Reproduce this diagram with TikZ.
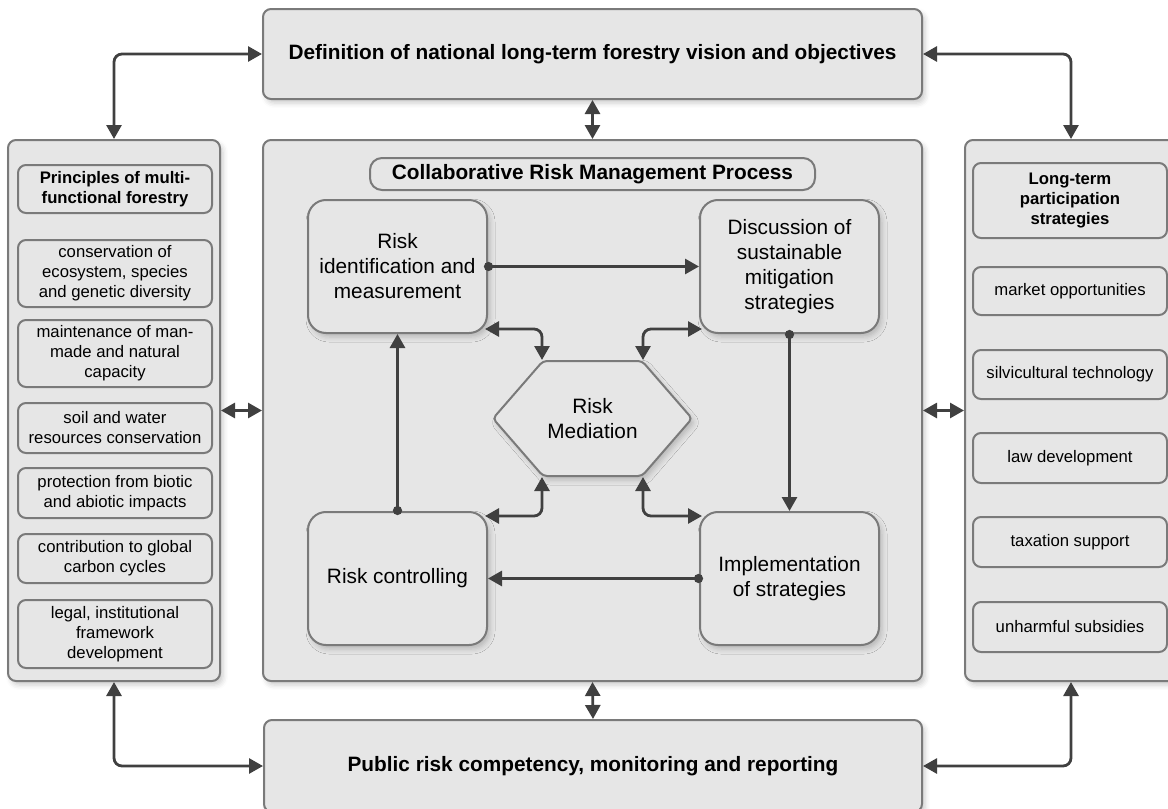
\documentclass[tikz,border=0pt]{standalone}
\usepackage{fontspec}
\setmainfont{Liberation Sans}
\usetikzlibrary{arrows.meta,shapes.symbols,shadows.blur}
\definecolor{boxfill}{HTML}{E6E6E6}
\definecolor{boxline}{HTML}{7A7A7A}
\definecolor{arrowc}{HTML}{404040}
\newcommand{\bigtxt}{\fontsize{10.4}{12.5}\selectfont}
\newcommand{\smalltxt}{\fontsize{8.35}{10}\selectfont}

\begin{document}
\begin{tikzpicture}[x=0.5pt, y=-0.5pt,
    box/.style={draw=boxline, line width=1pt, fill=boxfill, align=center, inner sep=2pt},
    shade/.style={blur shadow={shadow xshift=1.5pt, shadow yshift=-2pt, shadow blur radius=2.5pt, shadow opacity=20}},
    panel/.style={box, shade, rounded corners=4pt},
    proc/.style={box, shade, rounded corners=9pt, font=\bigtxt, minimum width=89.5pt, minimum height=66.5pt},
    item/.style={box, rounded corners=4pt, font=\smalltxt, minimum width=97pt},
    link/.style={draw=arrowc, line width=1.4pt, rounded corners=4pt},
    dbl/.style={link, {Triangle[length=7pt,width=7.5pt]}-{Triangle[length=7pt,width=7.5pt]}},
    flow/.style={link, shorten <=-2pt, {Circle[length=4.5pt]}-{Triangle[length=7pt,width=7.5pt]}}]
    \useasboundingbox (0,0) rectangle (1168,809);

    \node (def) [panel, minimum width=329.5pt, minimum height=45pt, font=\bigtxt\bfseries] at (592.5, 54) {Definition of national long-term forestry vision and objectives};
    \node (crm) [panel, minimum width=329.5pt, minimum height=270.5pt] at (592.5, 410.5) {};
    \node (pub) [panel, minimum width=329pt, minimum height=46pt, font=\bigtxt\bfseries] at (593, 766) {Public risk competency, monitoring and reporting};
    \node (prin) [panel, minimum width=106pt, minimum height=270.5pt] at (114, 410.5) {};
    \node (part) [panel, minimum width=106pt, minimum height=270.5pt] at (1071, 410.5) {};

    \node (p1) [item, font=\smalltxt\bfseries, minimum height=24pt] at (115, 189) {Principles of multi-\\functional forestry};
    \node (p2) [item, minimum height=33.5pt] at (115, 273.5) {conservation of\\ecosystem, species\\and genetic diversity};
    \node (p3) [item, minimum height=33.5pt] at (115, 353.5) {maintenance of man-\\made and natural\\capacity};
    \node (p4) [item, minimum height=25pt] at (115, 428) {soil and water\\resources conservation};
    \node (p5) [item, minimum height=25pt] at (115, 493) {protection from biotic\\and abiotic impacts};
    \node (p6) [item, minimum height=24.5pt] at (115, 558.5) {contribution to global\\carbon cycles};
    \node (p7) [item, minimum height=34pt] at (115, 634) {legal, institutional\\framework\\development};

    \node (s1) [item, font=\smalltxt\bfseries, minimum height=37.5pt] at (1070, 200.5) {Long-term\\participation\\strategies};
    \node (s2) [item, minimum height=24pt] at (1070, 291) {market opportunities};
    \node (s3) [item, minimum height=24.5pt] at (1070, 374.5) {silvicultural technology};
    \node (s4) [item, minimum height=25pt] at (1070, 458) {law development};
    \node (s5) [item, minimum height=25pt] at (1070, 542) {taxation support};
    \node (s6) [item, minimum height=25pt] at (1070, 627) {unharmful subsidies};

    \node (crmh) [box, rounded corners=6pt, font=\bigtxt\bfseries, minimum width=222.5pt, minimum height=16pt] at (592.5, 174) {Collaborative Risk Management Process};
    \node (riskid) [proc] at (397.5, 266.5) {Risk\\identification and\\measurement};
    \node (disc) [proc] at (789.5, 266.5) {Discussion of\\sustainable\\mitigation\\strategies};
    \node (ctrl) [proc] at (397.5, 578.5) {Risk controlling};
    \node (impl) [proc] at (789.5, 578.5) {Implementation\\of strategies};
    \node (med) [box, shade, signal, signal to=east and west, signal pointer angle=98, rounded corners=2pt, minimum width=99.5pt, minimum height=57.5pt, font=\bigtxt] at (592.5, 418.5) {Risk\\Mediation};

    \draw[dbl] (def.west) -| (prin.north);
    \draw[dbl] (def.east) -| (part.north);
    \draw[dbl] (def.south) -- (crm.north);
    \draw[dbl] (pub.west) -| (prin.south);
    \draw[dbl] (pub.east) -| (part.south);
    \draw[dbl] (crm.south) -- (pub.north);
    \draw[dbl] (prin.east) -- (crm.west);
    \draw[dbl] (crm.east) -- (part.west);

    \draw[flow] (riskid.east) -- (disc.west);
    \draw[flow] (disc.south) -- (impl.north);
    \draw[flow] (impl.west) -- (ctrl.east);
    \draw[flow] (ctrl.north) -- (riskid.south);
    \draw[dbl] ([shift={(-1.5pt,2.5pt)}]riskid.south east) -| ([xshift=-25.25pt]med.north);
    \draw[dbl] ([shift={(1.5pt,2.5pt)}]disc.south west) -| ([xshift=25.25pt]med.north);
    \draw[dbl] ([shift={(-1.5pt,-2.5pt)}]ctrl.north east) -| ([xshift=-25.25pt]med.south);
    \draw[dbl] ([shift={(1.5pt,-2.5pt)}]impl.north west) -| ([xshift=25.25pt]med.south);
\end{tikzpicture}
\end{document}
